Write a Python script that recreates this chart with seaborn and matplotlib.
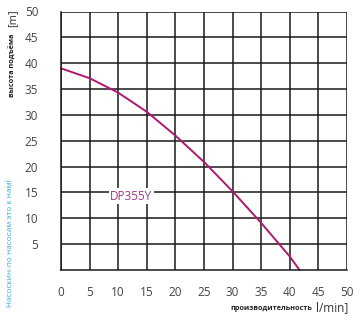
import matplotlib
matplotlib.use("Agg")
import matplotlib.pyplot as plt
import seaborn as sns
import pandas as pd

flow = [0, 5, 10, 15, 20, 25, 30, 35, 40, 41.7]
head = [39, 37.1, 34.3, 30.6, 26.0, 20.9, 15.2, 9.1, 2.6, 0]
x_ticks = [0, 5, 10, 15, 20, 25, 30, 35, 40, 45, 50]
y_ticks = [5, 10, 15, 20, 25, 30, 35, 40, 45, 50]
model = "DP355Y"

sns.set_style("white")
plt.rcParams['font.family'] = ['Open Sans', 'DejaVu Sans']

df = pd.DataFrame({"flow": flow, "head": head})

fig = plt.figure(figsize=(3.63, 3.21), dpi=100)
ax = fig.add_axes([61/363, 51/321, 286/363, 258.5/321])

gc = '#1a1a1a'
ax.set_xlim(0, 50)
ax.set_ylim(0, 50)
ax.set_xticks(x_ticks)
ax.set_yticks(y_ticks)
ax.grid(True, color=gc, linewidth=1.1)
ax.set_axisbelow(True)
for s in ['top', 'right']:
    ax.spines[s].set_visible(False)
for s in ['left', 'bottom']:
    ax.spines[s].set_color(gc)
    ax.spines[s].set_linewidth(1.1)

sns.lineplot(data=df, x="flow", y="head", ax=ax, color='#b0186e',
             linewidth=1.4, clip_on=False)
ax.set_xlabel("")
ax.set_ylabel("")

ax.tick_params(axis='y', length=9.4, width=1.1, color=gc, pad=7,
               labelsize=8.5, labelcolor='#444444')
ax.tick_params(axis='x', length=7.2, width=1.1, color=gc, pad=4,
               labelsize=8.5, labelcolor='#444444')
ax.xaxis.get_major_ticks()[0].tick1line.set_visible(False)

ax.text(12.3, 14.3, model, color='#9c3a86', fontsize=8.5,
        ha='center', va='center', zorder=5,
        bbox=dict(facecolor='white', edgecolor='none', pad=1.0))

# axis titles
fig.text(13/363, 1 - 18/321, "[m]", rotation=90, fontsize=8,
         color='#333333', ha='center', va='center')
fig.text(13/363, 1 - 65/321, "высота подъёма", rotation=90, fontsize=5.2,
         fontweight='bold', color='#222222', ha='center', va='center')
fig.text(11/363, 1 - 243/321, "Насоскин-по насосам это к нам!", rotation=90,
         fontsize=5.9, color='#3aaad8', ha='center', va='center')
fig.text(312/363, 1 - 309/321, "производительность", fontsize=5.2,
         fontweight='bold', color='#222222', ha='right', va='center')
fig.text(316/363, 1 - 308/321, "l/min]", fontsize=8.5,
         color='#333333', ha='left', va='center')

fig.savefig("out.png", dpi=100)
